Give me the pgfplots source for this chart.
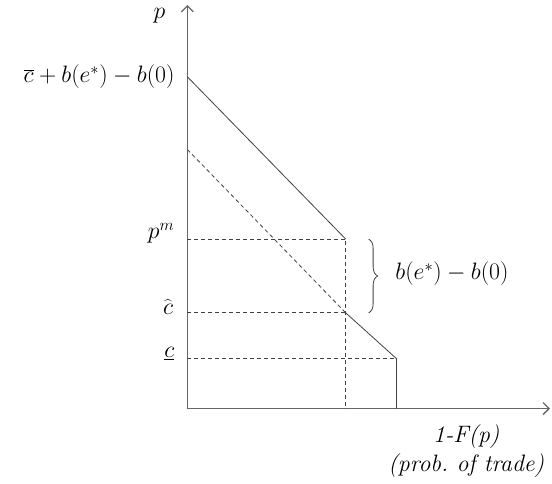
\documentclass[border=0pt]{standalone}
\usepackage{pgfplots}
\pgfplotsset{compat=1.18}
\usetikzlibrary{arrows.meta,decorations.pathreplacing}
\begin{document}
\begin{tikzpicture}[every node/.style={font=\LARGE, scale=1.38}]
\useasboundingbox (-188pt,-75pt) rectangle (366pt,410pt);
\begin{axis}[
    anchor=origin, at={(0pt,0pt)},
    x=1pt, y=1pt,
    xmin=0, xmax=364,
    ymin=0, ymax=405,
    axis lines=left,
    axis line style={black!60, line width=1.3pt, -{Straight Barb[length=6pt,width=12pt]}},
    xtick=\empty, ytick=\empty,
    clip=false,
]
% demand, high effort (solid)
\addplot[black!75, line width=0.8pt] coordinates {(0,333) (159,170)};
% demand, low effort (dashed), then solid lower part
\addplot[black!75, line width=0.8pt, dash pattern=on 4pt off 3pt] coordinates {(0,260) (159,96)};
\addplot[black!75, line width=0.8pt] coordinates {(159,96) (210,50) (210,0)};
% guides
\addplot[black!75, line width=0.8pt, dash pattern=on 4pt off 3pt] coordinates {(0,170) (159,170) (159,0)};
\addplot[black!75, line width=0.8pt, dash pattern=on 4pt off 3pt] coordinates {(0,96) (159,96)};
\addplot[black!75, line width=0.8pt, dash pattern=on 4pt off 3pt] coordinates {(0,50) (210,50)};

\draw[black!75, line width=0.8pt, decorate, decoration={brace, amplitude=9pt}]
    (axis cs:182,170) -- (axis cs:182,96);

\node[anchor=east] at (axis cs:-8,333) {$\overline{c}+b(e^{*})-b(0)$};
\node[anchor=east] at (axis cs:-8,176) {$p^{m}$};
\node[anchor=east] at (axis cs:-8,102) {$\widehat{\mkern1mu c\mkern1mu}$};
\node[anchor=east] at (axis cs:-8,55) {$\underline{c}$};
\node at (axis cs:-28,394) {$p$};
\node[anchor=west] at (axis cs:204,135) {$b(e^{*})-b(0)$};
\node at (axis cs:280,-28) {\itshape 1-F(p)};
\node at (axis cs:280,-57) {\itshape (prob.\ of trade)};
\end{axis}
\end{tikzpicture}
\end{document}
